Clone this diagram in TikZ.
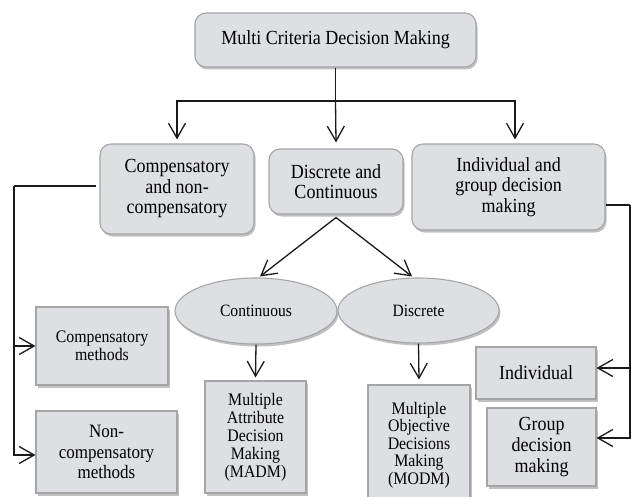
\documentclass[tikz,border=0pt]{standalone}
\usepackage{fontspec}
\setmainfont{Liberation Serif}[FakeStretch=0.9]
\usetikzlibrary{arrows.meta,shadows,shapes.geometric}
\definecolor{boxfill}{RGB}{222,223,227}
\definecolor{boxline}{RGB}{165,165,168}
\definecolor{shadowc}{RGB}{130,130,130}
\tikzset{
  base/.style={fill=boxfill, draw=boxline, line width=1.1pt, inner sep=0pt, align=center,
    drop shadow={shadow xshift=1.5pt, shadow yshift=-2.5pt, fill=shadowc, opacity=0.5}},
  rbox/.style={base, rectangle, rounded corners=11pt, font=\fontsize{20}{20.5}\selectfont},
  sbox/.style={base, rectangle},
  bigtxt/.style={font=\fontsize{20}{21}\selectfont},
  midtxt/.style={font=\fontsize{18.9}{20.5}\selectfont},
  smalltxt/.style={font=\fontsize{17.6}{18}\selectfont},
  ell/.style={base, ellipse, font=\fontsize{17.3}{18}\selectfont},
  conn/.style={line width=1.3pt, draw=black!90},
  arr/.style={conn, -{Straight Barb[length=15pt,width=17pt,line width=1.3pt]}},
}
\begin{document}
\begin{tikzpicture}[x=1pt,y=-1pt]
\useasboundingbox (0,0) rectangle (631,497);
% level 0
\node[rbox, minimum width=281pt, minimum height=54pt] (top) at (335.5,40) {Multi Criteria Decision Making};
% level 1
\node[rbox, minimum width=154pt, minimum height=90pt] (comp) at (177,189) {Compensatory\\and non-\\compensatory};
\node[rbox, minimum width=134pt, minimum height=65pt] (dc) at (336,181.5) {Discrete and\\Continuous};
\node[rbox, minimum width=193pt, minimum height=86pt] (ind) at (508.5,187) {Individual and\\group decision\\making};
% ellipses
\node[ell, minimum width=162pt, minimum height=66pt] (cont) at (256,311) {Continuous};
\node[ell, minimum width=161pt, minimum height=65pt] (disc) at (418.5,310.5) {Discrete};
% lower boxes
\node[sbox, smalltxt, minimum width=132pt, minimum height=78pt] (compm) at (102,346) {Compensatory\\methods};
\node[sbox, midtxt, minimum width=141pt, minimum height=82pt] (noncomp) at (106.5,452) {Non-\\compensatory\\methods};
\node[sbox, smalltxt, minimum width=101pt, minimum height=112pt] (madm) at (255.5,437) {Multiple\\Attribute\\Decision\\Making\\(MADM)};
\node[sbox, font=\fontsize{17.6}{17.5}\selectfont, minimum width=102pt, minimum height=120pt] (modm) at (419,445) {Multiple\\Objective\\Decisions\\Making\\(MODM)};
\node[sbox, bigtxt, minimum width=120pt, minimum height=52pt] (indiv) at (536,373) {Individual};
\node[sbox, bigtxt, minimum width=109pt, minimum height=78pt] (group) at (541.5,447) {Group\\decision\\making};
% connectors from top
\coordinate (split) at (335.5,101);
\draw[conn] (top.south) -- (split);
\draw[arr] (split) -| ([yshift=4pt]comp.north);
\draw[arr] (split) -| ([xshift=6.5pt,yshift=4pt]ind.north);
\draw[arr] (split) -- ([yshift=6pt]dc.north);
% discrete and continuous split
\coordinate (dcb) at ([yshift=-3pt]dc.south);
\draw[arr] (dcb) -- ([xshift=4pt,yshift=1pt]cont.north);
\draw[arr] (dcb) -- ([xshift=-6.5pt,yshift=1pt]disc.north);
\draw[arr] (cont.south) -- ([yshift=3pt]madm.north);
\draw[arr] (disc.south) -- ([yshift=5pt]modm.north);
% left bracket
\coordinate (lt) at (14,186);
\draw[conn] ([xshift=-3pt,yshift=3pt]comp.west) -- (lt);
\draw[arr] (lt) |- (compm.west);
\draw[arr] (lt) |- ([yshift=-3pt]noncomp.west);
% right bracket
\coordinate (rt) at (630,205);
\draw[conn] ([yshift=-18pt]ind.east) -- (rt);
\draw[arr] (rt) |- ([yshift=5pt]indiv.east);
\draw[arr] (rt) |- ([yshift=9pt]group.east);
\end{tikzpicture}
\end{document}
